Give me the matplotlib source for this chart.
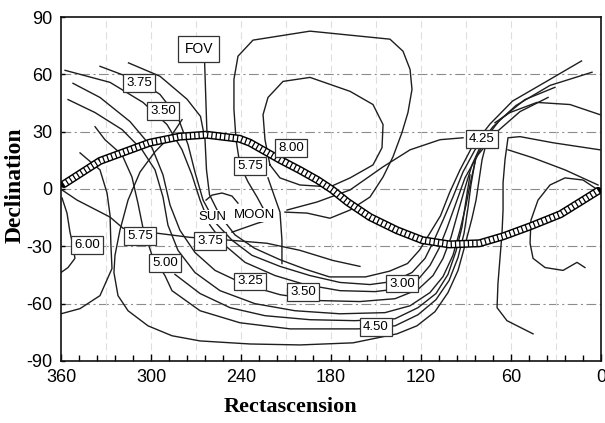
import matplotlib
matplotlib.use("Agg")
import matplotlib.pyplot as plt
from matplotlib.ticker import MultipleLocator

plt.rcParams["axes.unicode_minus"] = False
plt.rcParams["lines.scale_dashes"] = False

# Ecliptic track (right ascension, declination in degrees)
ecl_ra = [358, 334, 301, 281, 263, 241, 234, 214, 201, 189, 179, 169, 154, 136, 119, 101, 81, 65, 47, 27, 2]
ecl_dec = [2.6, 14.7, 24.2, 27.4, 28.4, 26.3, 24.2, 15.3, 10, 4.7, -0.5, -6.8, -14.7, -21.6, -26.8, -29, -28.4, -24.7, -19.5, -13.2, -1]

# U-shaped contour family (inner to outer)
u0_ra = [315, 294, 276, 267, 264, 263, 261, 254, 244, 231, 214, 197, 181, 157, 141, 129, 121, 114, 107, 101, 94, 86, 74, 59, 37, 13]
u0_dec = [66, 59, 47, 38, 26, 10, -3, -14, -24, -31, -37, -42, -46, -46, -43, -39, -32, -23, -14, -2, 10, 22, 34, 46, 56, 67]

u1_ra = [334, 307.3, 294, 282, 275.3, 270.7, 265.3, 257.3, 246, 232.7, 214, 194, 174, 154, 138.7, 126, 117.3, 111.3, 105.3, 98.7, 92, 84, 72, 56.7, 34, 6]
u1_dec = [64.2, 56.3, 49.5, 37.4, 23.2, 8.9, -5.8, -17.4, -26.8, -34.7, -40.5, -45.3, -48.9, -50, -48.4, -43.7, -36.3, -26.8, -16.3, -4.2, 8.9, 20.5, 32.6, 43.7, 54.2, 61.1]

u2_ra = [357.3, 327.3, 305.3, 289.3, 279.3, 272.7, 267.3, 260.7, 250.7, 237.3, 217.3, 197.3, 174, 150.7, 134, 122, 114, 108, 102.7, 96.7, 90.7, 82, 69.3, 54, 35.3]
u2_dec = [62.1, 55.8, 45.3, 33.7, 20.5, 7.4, -5.8, -18.9, -29.5, -38.4, -45.3, -50, -53.2, -53.7, -52.1, -47.4, -40, -31.1, -20.5, -7.4, 5.8, 17.9, 30, 40.5, 47.9]

u3_ra = [352, 334, 314, 299.3, 292, 287.3, 280.7, 270.7, 257.3, 237.3, 214, 187.3, 160.7, 137.3, 122, 112, 105.3, 100, 95.3, 90.7, 86, 79.3, 67.3, 50.7, 30.7]
u3_dec = [55.3, 47.9, 35.3, 21.6, 7.4, -8.4, -21.6, -33.2, -42.6, -50, -55.3, -58.4, -58.9, -57.4, -52.6, -45.3, -36.3, -25.3, -12.1, 0.5, 12.6, 24.2, 36.3, 46.8, 53.2]

u4_ra = [355.3, 337.3, 319.3, 306, 297.3, 292, 288.7, 282, 270.7, 254, 230.7, 204, 174, 144, 127.3, 114, 105.3, 98.7, 94, 90, 86.7, 83.3, 78.7]
u4_dec = [46.8, 40, 31.1, 20.5, 10, -4.2, -18.9, -32.1, -43.7, -53.2, -60, -63.7, -65.3, -64.7, -61.1, -54.2, -45.8, -34.7, -21.6, -8.4, 4.7, 16.3, 23.2]

u5_ra = [337.3, 330.7, 319.3, 312.7, 308.7, 305.3, 299.3, 290.7, 286, 267.3, 240.7, 207.3, 162, 137.3, 122, 110, 101.3, 95.3, 91.3, 88.7, 86.7, 84]
u5_dec = [32.6, 25.8, 17.9, 6.3, -7.4, -20.5, -34.7, -45.3, -53.2, -63.7, -70, -73.2, -73.2, -71.6, -65.8, -57.9, -47.9, -35.8, -23.2, -10, 2.1, 14.2]

u6_ra = [284, 267.3, 247.3, 224, 194, 164, 137.3, 122, 110, 102, 96.7, 92.7, 90, 87.3]
u6_dec = [-44.7, -54.7, -62.1, -66.3, -68.4, -68.9, -67.9, -62.1, -54.7, -44.7, -32.6, -20, -5.8, 7.4]

u7_ra = [279.3, 286, 297.3, 307.3, 315.3, 320.7, 324, 324.7, 322, 315.3, 302, 286, 267.3, 234, 200.7, 165.3, 136, 122.7, 110.7, 102, 95.3, 90.7, 86, 83.3, 81.3, 79.3, 76.7]
u7_dec = [36.3, 28.4, 19.5, 8.9, -5.8, -21.6, -34.7, -43.7, -55.8, -63.7, -71.6, -76.8, -79.5, -81.1, -81.6, -80.5, -75.8, -71.6, -64.2, -54.2, -42.6, -29.5, -15.3, -5.8, 4.7, 15.3, 23.2]

# saddle branch on the left
x1_ra = [347.3, 334, 329.3, 327.3, 326.7, 326, 334, 347.3, 360]
x1_dec = [18.9, 10, -2.1, -13.7, -29.5, -41.6, -55.8, -62.6, -65.3]

# closed loops in the upper middle
outer_ra = [225.3, 229.3, 235.3, 240.7, 243.3, 244.7, 244.7, 242, 232, 194, 140.7, 132, 127.3, 126, 128.7, 132.7, 138.7, 145.3, 154, 167.3, 180.7, 196, 210.7]
outer_dec = [-10, -4.2, 3.7, 12.6, 25.8, 41.6, 57.4, 69.5, 77.9, 82.6, 78.4, 72.1, 62.6, 52.1, 40, 29.5, 16.8, 6.3, -4.2, -11, -15.3, -12.6, -12.1]

inner_ra = [220.7, 224, 225.3, 222, 212, 194, 167.3, 152, 145.3, 146, 152, 167.3, 180.7, 200.7, 214, 220.7]
inner_dec = [12.6, 25.8, 38.9, 47.9, 56.3, 58.4, 51.1, 44.2, 33.7, 21.6, 12.6, 5.8, 1.1, 2.1, 5.8, 12.6]

# other contour segments
moon_ra = [209.3, 189.3, 167.3, 145.3, 127.3, 107.3, 92]
moon_dec = [-11, -6.8, -0.5, 11.6, 20.5, 25.8, 26.8]

sun_arc_ra = [263.3, 259.3, 252.7, 246, 242]
sun_arc_dec = [-5.8, -3.2, -2.1, -3.7, -7.4]

below_moon_ra = [246, 229, 217]
below_moon_dec = [-22.6, -17.9, -15.3]

mid_ra = [222, 218, 214, 212.7, 212.7]
mid_dec = [5.8, -3.2, -12.1, -26.8, -39]

cross_ra = [359.3, 349.3, 327.3, 318.7, 295.3, 274, 247.3, 222.7, 200.7, 178.7, 160.7]
cross_dec = [-0.5, -5.8, -14.7, -20.5, -23.2, -25.3, -26.8, -28.4, -32.1, -37.4, -40.5]

left_ra = [359.3, 356, 354, 352, 350.7, 355.3, 360]
left_dec = [-4.7, -12.6, -22.6, -29.5, -36.3, -41.1, -43.7]

r1_ra = [0.7, 32, 54, 62, 64, 65.3, 65.3, 66, 68.7, 69.3, 62.7, 45.3]
r1_dec = [20.5, 24.2, 27.4, 26.8, 15.3, 3.2, -11, -23.2, -49.5, -62.1, -68.9, -75.8]

r2_ra = [70.7, 60.7, 42.7, 20.7, 0.7]
r2_dec = [34.7, 40, 45.3, 44.2, 38.9]

r3_ra = [2, 12, 24, 34, 42, 46.7, 47.3, 45.3, 37.3, 25.3, 16, 10.7]
r3_dec = [-0.5, 4.7, 5.8, 2.1, -5.8, -16.3, -28.4, -36.3, -41.1, -42.6, -38.4, -41.1]

r4_ra = [62, 45.3, 24, 2]
r4_dec = [20.5, 16.3, 10, 2.1]

# field-of-view pointer
fov_ra = 262.7
fov_dec = 29.5

# boxed contour labels
label_text = ["3.75", "3.50", "8.00", "5.75", "4.25", "3.75", "5.75", "6.00", "5.00", "3.25", "3.50", "3.00", "4.50"]
label_ra = [308, 292, 206.7, 234, 79.3, 260.7, 307.3, 342.7, 290.7, 234, 198.7, 132.7, 150]
label_dec = [55.3, 41, 21.6, 12.1, 26.3, -27.4, -24.7, -29.5, -38.9, -48.4, -53.7, -49.5, -72.1]

lines = [
    (u0_ra, u0_dec), (u1_ra, u1_dec), (u2_ra, u2_dec), (u3_ra, u3_dec),
    (u4_ra, u4_dec), (u5_ra, u5_dec), (u6_ra, u6_dec), (u7_ra, u7_dec),
    (x1_ra, x1_dec), (outer_ra, outer_dec), (inner_ra, inner_dec),
    (moon_ra, moon_dec), (sun_arc_ra, sun_arc_dec), (below_moon_ra, below_moon_dec),
    (mid_ra, mid_dec), (cross_ra, cross_dec), (left_ra, left_dec),
    (r1_ra, r1_dec), (r2_ra, r2_dec), (r3_ra, r3_dec), (r4_ra, r4_dec),
]

fig = plt.figure(figsize=(6.05, 4.23), dpi=100)
ax = fig.add_axes([0.1008, 0.1466, 0.8926, 0.8132])

# grid
for d in [-60, -30, 0, 30, 60]:
    ax.axhline(d, color="#8c8c8c", lw=0.8, linestyle=(0, (7, 2.5, 1.5, 2.5)), zorder=1)
for r in range(30, 360, 30):
    ax.axvline(r, color="#dedede", lw=0.8, linestyle=(0, (5, 3)), zorder=1)

for ra, dec in lines:
    ax.plot(ra, dec, color="#1e1e1e", lw=1.0, zorder=2)

# ecliptic drawn as a chain of small rings
ax.plot(ecl_ra, ecl_dec, color="black", lw=5.8, zorder=4,
        solid_joinstyle="round", solid_capstyle="round")
ax.plot(ecl_ra, ecl_dec, color="white", lw=3.7, zorder=5,
        linestyle=(0, (2.2, 0.9)), dash_capstyle="butt", dash_joinstyle="round")

box_font = ["Liberation Sans", "DejaVu Sans"]
for txt, r, d in zip(label_text, label_ra, label_dec):
    ax.text(r, d, txt, ha="center", va="center", fontsize=9.5, family=box_font,
            zorder=7,
            bbox=dict(boxstyle="square,pad=0.22", fc="white", ec="#333333", lw=0.9))

ax.text(259.3, -14.7, "SUN", ha="center", va="center", fontsize=9.5, family=box_font,
        zorder=7, bbox=dict(boxstyle="square,pad=0.1", fc="white", ec="none"))
ax.text(230.7, -13.7, "MOON", ha="center", va="center", fontsize=9.5, family=box_font,
        zorder=7, bbox=dict(boxstyle="square,pad=0.1", fc="white", ec="none"))

ax.annotate("FOV", xy=(fov_ra, fov_dec), xytext=(268, 73.2), textcoords="data",
            ha="center", va="center", fontsize=10, family=box_font, zorder=7,
            bbox=dict(boxstyle="square,pad=0.45", fc="white", ec="#333333", lw=0.9),
            arrowprops=dict(arrowstyle="-", lw=1.0, color="#1e1e1e",
                            shrinkA=0, shrinkB=0, relpos=(0.69, 0)))

ax.set_xlim(360, 0)
ax.set_ylim(-90, 90)
ax.set_xticks([360, 300, 240, 180, 120, 60, 0])
ax.set_xticklabels(["360", "300", "240", "180", "120", "60", "0"])
ax.xaxis.set_minor_locator(MultipleLocator(12))
ax.set_yticks([-90, -60, -30, 0, 30, 60, 90])
ax.set_yticklabels(["-90", "-60", "-30", "0", "30", "60", "90"])

tick_font = ["Liberation Sans", "DejaVu Sans"]
for lab in ax.get_xticklabels() + ax.get_yticklabels():
    lab.set_family(tick_font)
    lab.set_fontsize(13)

ax.tick_params(axis="x", which="both", direction="in", top=False, length=5, width=1.0, pad=6)
ax.tick_params(axis="x", which="minor", length=4)
ax.tick_params(axis="y", direction="in", right=False, length=3, width=1.0, pad=6)

for s in ax.spines.values():
    s.set_linewidth(1.2)
    s.set_color("#111111")

serif = ["Liberation Serif", "DejaVu Serif"]
ax.set_xlabel("Rectascension", fontsize=16, fontweight="bold", family=serif)
ax.set_ylabel("Declination", fontsize=17, fontweight="bold", family=serif)
ax.xaxis.set_label_coords(0.424, -0.105)
ax.yaxis.set_label_coords(-0.066, 0.51)

fig.savefig("out.png", dpi=100)
